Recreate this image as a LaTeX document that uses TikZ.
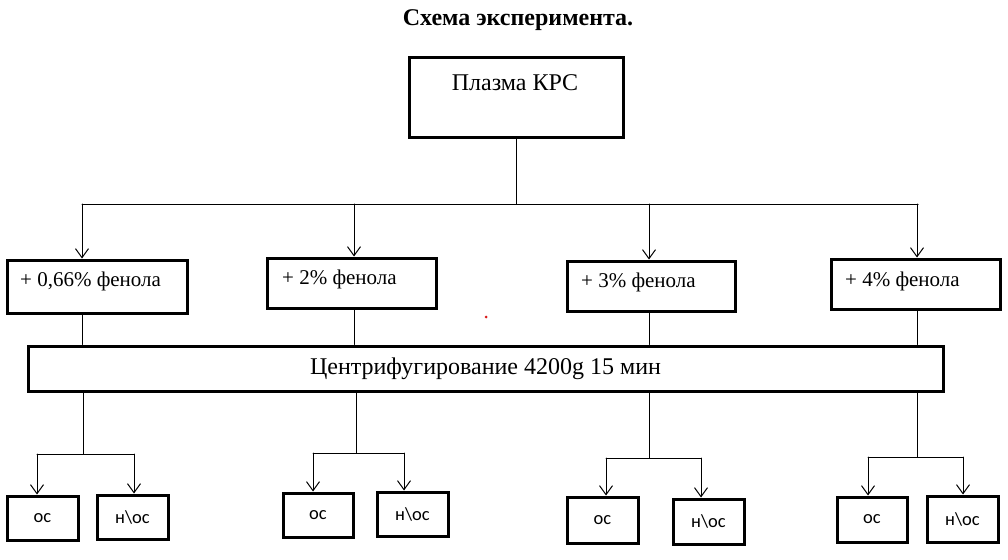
\documentclass[tikz,border=0pt]{standalone}
\usepackage{fontspec}
\setmainfont{Liberation Serif}
\newfontfamily\boxsans{Carlito}
\usepackage{tikz}
\usetikzlibrary{arrows.meta}
\usetikzlibrary{positioning}
\definecolor{dotred}{rgb}{0.85,0.1,0.1}

\begin{document}
\begin{tikzpicture}[line cap=round,line join=round, x=1pt,y=-1pt,
		box/.style={draw=black, line width=3pt, line join=miter, inner sep=0pt},
		lbl/.style={font=\fontsize{21}{25}\selectfont, inner sep=0pt},
		small/.style={box, font=\boxsans\fontsize{18.5}{22}\selectfont},
		link/.style={draw=black, line width=1pt},
		arr/.style={link, -{Straight Barb[length=9pt,width=13pt]}}]
						\useasboundingbox (0,0) rectangle (1008,559);
						\node[font=\bfseries\fontsize{24}{28}\selectfont] (title) at (518,20) {Схема эксперимента.};
						\node[box, minimum width=214pt, minimum height=79pt] (plasma) at (516,97.5) {};
						\node[lbl, font=\fontsize{24}{28}\selectfont] (plasmaT) at (515,83) {Плазма КРС};
						\node[box, minimum width=180pt, minimum height=53pt] (b1) at (97,286.5) {};
						\node[box, minimum width=169pt, minimum height=50pt] (b2) at (351.5,283) {};
						\node[box, minimum width=168pt, minimum height=50pt] (b3) at (651,286) {};
						\node[box, minimum width=169pt, minimum height=50pt] (b4) at (915.5,284) {};
						\node[lbl, anchor=west] (t1) at (20,281) {+ 0,66\% фенола};
						\node[lbl, anchor=west] (t2) at (282,279) {+ 2\% фенола};
						\node[lbl, anchor=west] (t3) at (581,282) {+ 3\% фенола};
						\node[lbl, anchor=west] (t4) at (845,281) {+ 4\% фенола};
						\node[box, minimum width=915pt, minimum height=45pt, font=\fontsize{24}{28}\selectfont] (cf) at (485.5,368.5) {Центрифугирование 4200g 15 мин};
						\node[small, minimum width=71pt, minimum height=44pt] (o1) at (42.5,518) {ос};
						\node[small, minimum width=71pt, minimum height=44pt] (n1) at (132.5,517) {н\textbackslash ос};
						\node[small, minimum width=70pt, minimum height=44pt] (o2) at (318,515) {ос};
						\node[small, minimum width=71pt, minimum height=44pt] (n2) at (412.5,514) {н\textbackslash ос};
						\node[small, minimum width=71pt, minimum height=46pt] (o3) at (602.5,520) {ос};
						\node[small, minimum width=71pt, minimum height=45pt] (n3) at (708.5,521.5) {н\textbackslash ос};
						\node[small, minimum width=70pt, minimum height=45pt] (o4) at (872,519.5) {ос};
						\node[small, minimum width=71pt, minimum height=46pt] (n4) at (962.5,519) {н\textbackslash ос};
						\coordinate (top) at (516,204);
						\coordinate (left) at (82,204);
						\coordinate (right) at (918,204);
						\draw[link] (plasma.south -| top) -- (top);
						\draw[link] (left) -- (right);
						\foreach \i/\xc in {1/82,2/354,3/649,4/917}{
							\coordinate (c\i) at (\xc,204);
							\draw[arr] (c\i) -- (c\i |- b\i.north);
							\draw[link] (c\i |- b\i.south) -- (c\i |- cf.north);
						}
						\foreach \i/\xc/\yj/\xl/\xr in {1/83/454/37/134,2/356/453/313/404,3/649/458/606/701,4/917/457/868/963}{
							\coordinate (j\i) at (\xc,\yj);
							\coordinate (jl\i) at (\xl,\yj);
							\coordinate (jr\i) at (\xr,\yj);
							\draw[link] (cf.south -| j\i) -- (j\i);
							\draw[link] (jl\i) -- (jr\i);
							\draw[arr] (jl\i) -- (jl\i |- o\i.north);
							\draw[arr] (jr\i) -- (jr\i |- n\i.north);
						}
						\fill[dotred] (486,317) circle (1.5);
					\end{tikzpicture}
\end{document}
